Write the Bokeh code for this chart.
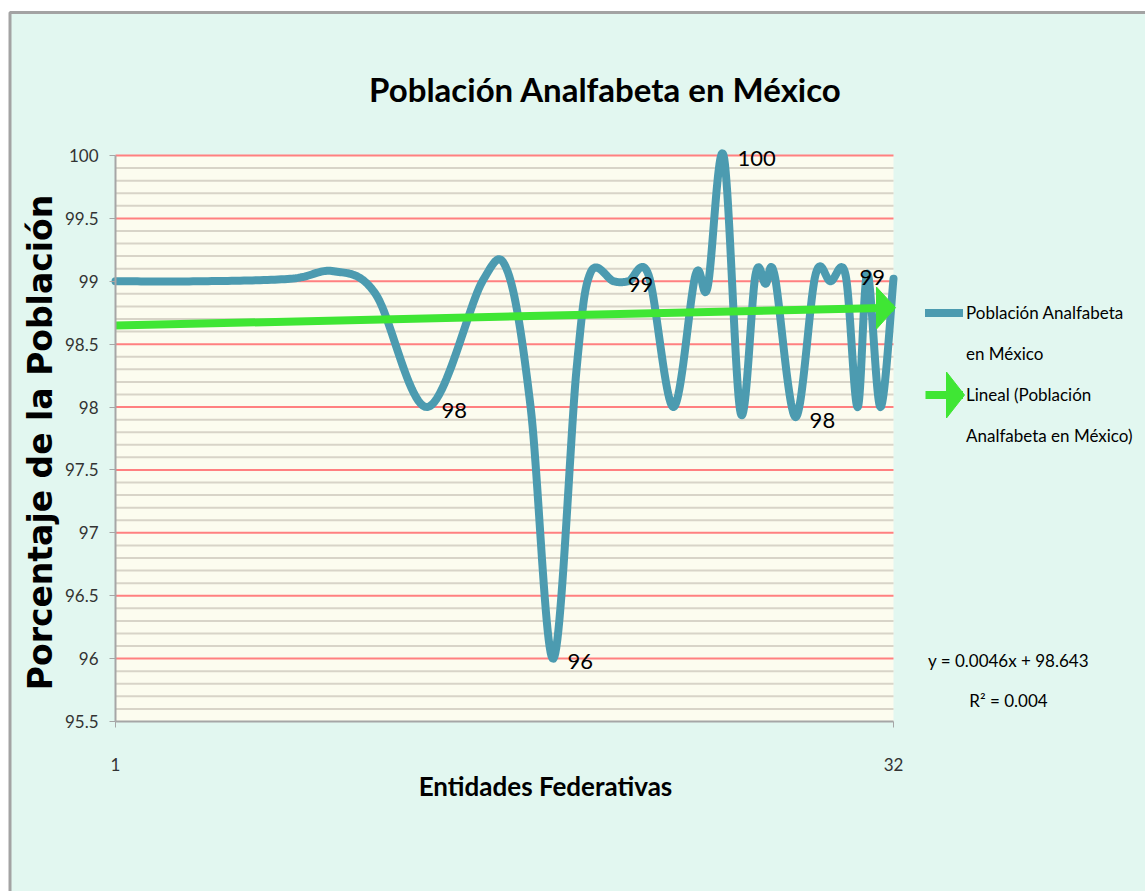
import numpy as np
from bokeh.plotting import figure
from bokeh.models import Range1d, FixedTicker, Legend, LegendItem, Label, LinearAxis
from bokeh.core.properties import value
from bokeh.embed import file_html
from bokeh.resources import INLINE

# ---------------- data ----------------
TITLE = "Población Analfabeta en México"
X_LABEL = "Entidades Federativas"
Y_LABEL = "Porcentaje de la Población"
SERIES_NAME_LINES = ["Población Analfabeta", "en México"]
TREND_NAME_LINES = ["Lineal (Población", "Analfabeta en México)"]

ENTIDAD = [1.00, 4.39, 7.97, 9.69, 11.36, 13.43, 15.62, 16.62, 17.54, 18.45,
           19.37, 19.93, 20.85, 21.44, 22.24, 23.23, 24.11, 24.59, 25.23, 25.91,
           26.50, 26.90, 27.26, 28.10, 28.89, 29.49, 30.09, 30.57, 30.96, 31.48, 32.00]
PORCENTAJE = [99.0, 99.0, 99.02, 99.08, 98.9, 98.0, 99.0, 99.08, 98.0, 96.0,
              98.3, 99.07, 99.0, 99.0, 99.05, 98.0, 99.05, 98.95, 100.0, 97.95,
              99.05, 98.98, 99.05, 97.92, 99.05, 99.0, 99.05, 98.0, 99.06, 98.0, 99.02]
LABELED_POINTS = [5, 9, 12, 18, 23, 26]

TREND_SLOPE = 0.0046
TREND_INTERCEPT = 98.643
EQUATION = "y = 0.0046x + 98.643"
R2_TEXT = "R² = 0.004"

X_TICKS = [1, 32]
X_TICK_LABELS = ["1", "32"]
Y_TICKS = [95.5, 96.0, 96.5, 97.0, 97.5, 98.0, 98.5, 99.0, 99.5, 100.0]
Y_TICK_LABELS = ["95.5", "96", "96.5", "97", "97.5", "98", "98.5", "99", "99.5", "100"]

# ---------------- layout & styles ----------------
W, H = 1145, 891
PLOT_L, PLOT_R, PLOT_T, PLOT_B = 115, 893, 155, 721
X0, X1 = X_TICKS[0], X_TICKS[-1]
Y0, Y1 = Y_TICKS[0], Y_TICKS[-1]
KX = (PLOT_R - PLOT_L) / (X1 - X0)
KY = (PLOT_B - PLOT_T) / (Y1 - Y0)


def px2x(px):
    return X0 + (px - PLOT_L) / KX


def py2y(py):
    return Y1 - (py - PLOT_T) / KY


FONT = "Lato"
MINT = "#e2f7f0"
CREAM = "#fcfcef"
BLUE = "#4c9bb0"
GREEN = "#3fe634"
RED_GRID = "#ff8080"
GREY_GRID = "#d8d4c8"
AXIS_GREY = "#a6a6a6"
TEXT_GREY = "#333333"

LEG_X, LEG_TOP, ROW = 925, 292, 41


def excel_smooth(xs, ys, n=24):
    P = np.column_stack([xs, ys]).astype(float)
    Pm = np.vstack([P[0], P, P[-1]])
    segs = []
    for i in range(len(P) - 1):
        p0, p1, p2, p3 = Pm[i], Pm[i + 1], Pm[i + 2], Pm[i + 3]
        c1 = p1 + (p2 - p0) / 6.0
        c2 = p2 - (p3 - p1) / 6.0
        t = np.linspace(0, 1, n, endpoint=(i == len(P) - 2))[:, None]
        segs.append((1 - t) ** 3 * p1 + 3 * (1 - t) ** 2 * t * c1 + 3 * (1 - t) * t ** 2 * c2 + t ** 3 * p2)
    out = np.vstack(segs)
    return out[:, 0], out[:, 1]


p = figure(width=W, height=H, output_backend="svg", toolbar_location=None,
           x_range=Range1d(px2x(0), px2x(W)), y_range=Range1d(py2y(H), py2y(0)),
           x_axis_location=None, y_axis_location=None, min_border=0)
p.title.visible = False
p.background_fill_color = "white"
p.border_fill_color = "white"
p.outline_line_color = None
p.xgrid.visible = False
p.ygrid.visible = False

# chart area (mint with grey frame) and plot area (cream)
p.quad(left=px2x(9.5), right=px2x(W + 40), top=py2y(12), bottom=py2y(H + 40),
       fill_color=MINT, line_color="#a3a3a3", line_width=3, level="image")
p.quad(left=X0, right=X1, top=Y1, bottom=Y0, fill_color=CREAM, line_color=None, level="image")

# horizontal grid lines, limited to the plot area
minor = [round(v, 1) for v in np.arange(Y0, Y1 + 0.001, 0.1) if round(v, 1) not in Y_TICKS]
p.segment(x0=X0, x1=X1, y0=minor, y1=minor, line_color=GREY_GRID, line_width=2, level="underlay")
p.segment(x0=X0, x1=X1, y0=Y_TICKS[1:], y1=Y_TICKS[1:], line_color=RED_GRID, line_width=2,
          level="underlay")

# y axis
yaxis = LinearAxis(fixed_location=X0, bounds=(Y0, Y1), ticker=FixedTicker(ticks=Y_TICKS),
                   major_label_overrides=dict(zip(Y_TICKS, Y_TICK_LABELS)),
                   axis_line_color=AXIS_GREY, axis_line_width=2,
                   major_tick_line_color=AXIS_GREY, major_tick_in=0, major_tick_out=6,
                   minor_tick_line_color=None, major_label_standoff=11,
                   major_label_text_font=FONT, major_label_text_font_size="17px",
                   major_label_text_color=TEXT_GREY)
p.add_layout(yaxis, "left")

# x axis
xaxis = LinearAxis(fixed_location=Y0, bounds=(X0, X1), ticker=FixedTicker(ticks=X_TICKS),
                   major_label_overrides=dict(zip(X_TICKS, X_TICK_LABELS)),
                   axis_line_color=AXIS_GREY, axis_line_width=2,
                   major_tick_line_color=AXIS_GREY, major_tick_in=0, major_tick_out=6,
                   minor_tick_line_color=None, major_label_standoff=30,
                   major_label_text_font=FONT, major_label_text_font_size="17px",
                   major_label_text_color=TEXT_GREY)
p.add_layout(xaxis, "below")

# series
sx, sy = excel_smooth(ENTIDAD, PORCENTAJE)
line_r = p.line(sx, sy, line_color=BLUE, line_width=8, line_cap="round", line_join="round")

# linear trend with arrow head
tx = np.array([X0, X1], dtype=float)
ty = TREND_SLOPE * tx + TREND_INTERCEPT
trend_r = p.line(tx, ty, line_color=GREEN, line_width=8)
head_len = 17 / KX
head_half = 21 / KY
hb = TREND_SLOPE * (X1 - head_len) + TREND_INTERCEPT
tip = X1 + 2 / KX
p.patch([X1 - head_len, tip, X1 - head_len], [hb + head_half, ty[-1], hb - head_half],
        fill_color=GREEN, line_color=GREEN)
blank_r = p.line(x=[], y=[], line_alpha=0)

# arrow head of the trend's legend key
key_y = py2y(LEG_TOP + 2.5 * ROW)
p.patch([px2x(LEG_X + 21), px2x(LEG_X + 39), px2x(LEG_X + 21)],
        [key_y + 23 / KY, key_y, key_y - 23 / KY], fill_color=GREEN, line_color=GREEN)

# data labels
lx = [ENTIDAD[i] for i in LABELED_POINTS]
ly = [PORCENTAJE[i] for i in LABELED_POINTS]
lt = [str(int(round(v))) for v in ly]
p.text(lx, ly, text=lt, x_offset=14, y_offset=3, text_align="left", text_baseline="middle",
       text_font=value(FONT), text_font_size="22px", text_color="black")

# legend (one entry per text line, as wrapped in the chart)
items = [LegendItem(label=SERIES_NAME_LINES[0], renderers=[line_r]),
         LegendItem(label=SERIES_NAME_LINES[1], renderers=[blank_r]),
         LegendItem(label=TREND_NAME_LINES[0], renderers=[trend_r]),
         LegendItem(label=TREND_NAME_LINES[1], renderers=[blank_r])]
legend = Legend(items=items, location=(LEG_X, H - (LEG_TOP + 4 * ROW)), orientation="vertical",
                background_fill_alpha=0, border_line_color=None,
                label_text_font=FONT, label_text_font_size="17px", label_text_color="black",
                glyph_width=38, glyph_height=ROW, label_height=ROW, label_standoff=3,
                padding=0, spacing=0, margin=0)
p.add_layout(legend, "center")

# texts
p.add_layout(Label(x=px2x(605), y=py2y(88), text=TITLE, text_align="center", text_baseline="middle",
                   text_font=FONT, text_font_size="33px", text_font_style="bold", text_color="black"))
p.add_layout(Label(x=px2x(545), y=py2y(785), text=X_LABEL, text_align="center", text_baseline="middle",
                   text_font=FONT, text_font_size="26px", text_font_style="bold", text_color="black"))
p.add_layout(Label(x=px2x(40), y=py2y(442), text=Y_LABEL, text_align="center", text_baseline="middle",
                   angle=np.pi / 2, text_font="DejaVu Sans", text_font_size="33px",
                   text_font_style="bold", text_color="black"))
p.add_layout(Label(x=px2x(1008), y=py2y(660), text=EQUATION, text_align="center",
                   text_baseline="middle", text_font=FONT, text_font_size="17px", text_color="black"))
p.add_layout(Label(x=px2x(1008), y=py2y(700), text=R2_TEXT, text_align="center",
                   text_baseline="middle", text_font=FONT, text_font_size="17px", text_color="black"))

open("out.html", "w").write(file_html(p, INLINE))
